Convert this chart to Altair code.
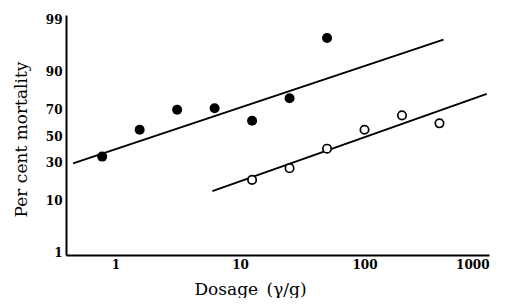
import altair as alt
import pandas as pd
from statistics import NormalDist

# Filled circles (series A)
fill_dose = [0.78125, 1.5625, 3.125, 6.25, 12.5, 25, 50]
fill_pct = [34, 55, 70, 71, 62, 77.5, 97.5]
# Open circles (series B)
open_dose = [12.5, 25, 50, 100, 200, 400]
open_pct = [19, 26, 40, 55, 66, 60]
# Fitted lines (end points)
lineA_dose = [0.456, 431]
lineA_pct = [29.2, 97.3]
lineB_dose = [6.0, 960]
lineB_pct = [13.5, 80.0]

y_ticks = [1, 10, 30, 50, 70, 90, 99]
x_ticks = [1, 10, 100, 1000]

tick_probits = [NormalDist().inv_cdf(p / 100) for p in y_ticks]

pts = pd.DataFrame({
    "dose": fill_dose + open_dose,
    "pct": fill_pct + open_pct,
    "series": ["A"] * len(fill_dose) + ["B"] * len(open_dose),
})
lines = pd.DataFrame({
    "dose": lineA_dose + lineB_dose,
    "pct": lineA_pct + lineB_pct,
    "series": ["A"] * 2 + ["B"] * 2,
})

x_enc = alt.X(
    "dose:Q",
    scale=alt.Scale(type="log", domain=[0.4, 1000], nice=False),
    axis=alt.Axis(
        values=x_ticks, format="d", title="Dosage\u2002(\u03b3/g)",
        ticks=False, labelPadding=4,
        titleX=184, titleY=39, titleBaseline="alphabetic",
    ),
)
y_enc = alt.Y(
    "probit:Q",
    scale=alt.Scale(domain=[-2.38, 2.42], zero=False, nice=False),
    axis=alt.Axis(
        values=tick_probits,
        labelExpr="'' + round(cumulativeNormal(datum.value) * 100)",
        title="Per cent mortality",
        ticks=False, labelPadding=4,
        titleX=-45, titleY=124, titleBaseline="middle", titleAlign="center",
    ),
)

base_calc = "quantileNormal(datum.pct / 100)"

line_layer = alt.Chart(lines).transform_calculate(probit=base_calc).mark_line(
    color="black", strokeWidth=2
).encode(x=x_enc, y=y_enc, detail="series:N")

filled_layer = alt.Chart(pts).transform_filter("datum.series == 'A'").transform_calculate(
    probit=base_calc
).mark_point(filled=True, color="black", size=100, opacity=1, shape="circle").encode(x=x_enc, y=y_enc)

open_layer = alt.Chart(pts).transform_filter("datum.series == 'B'").transform_calculate(
    probit=base_calc
).mark_point(filled=True, fill="white", stroke="black", strokeWidth=1.7, size=70,
             opacity=1, fillOpacity=1, shape="circle").encode(x=x_enc, y=y_enc)

chart = alt.layer(line_layer, filled_layer, open_layer).properties(
    width=423, height=240,
    autosize=alt.AutoSizeParams(type="none"),
    padding={"left": 58, "top": 7, "right": 9, "bottom": 43},
    background="white",
).configure_view(stroke=None).configure_axis(
    grid=False,
    domainColor="black", domainWidth=2,
    labelFont="DejaVu Serif", labelFontWeight="bold", labelFontSize=12, labelColor="black",
    titleFont="DejaVu Serif", titleFontWeight="normal", titleFontSize=17, titleColor="black",
)

chart.save("out.html", embed_options={"renderer": "svg", "actions": False})
